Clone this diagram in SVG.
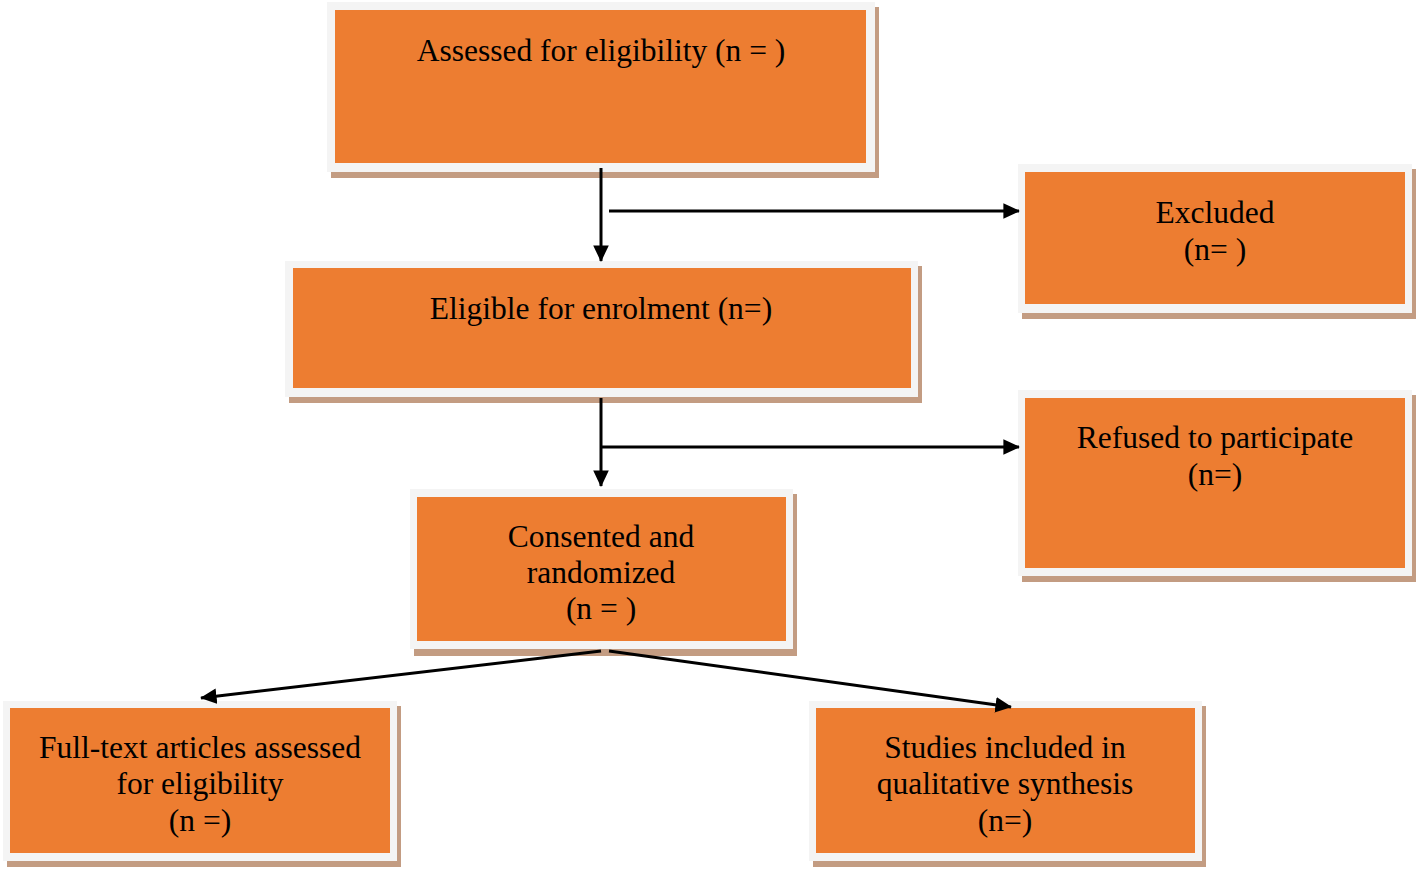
<svg xmlns="http://www.w3.org/2000/svg" width="1418" height="870" viewBox="0 0 1418 870">
<defs>
<style>
.sh{fill:#c39c82}
.fr{fill:#f4f4f4}
.bx{fill:#ed7d31}
text{font-family:"Liberation Serif","Times New Roman",serif;font-size:31.5px;fill:#000;text-anchor:middle}
.ln{stroke:#000;stroke-width:3;fill:none}
</style>
<marker id="ah" markerWidth="5.5" markerHeight="5.2" refX="5.2" refY="2.6" orient="auto" markerUnits="strokeWidth">
<path d="M0,0 L5.5,2.6 L0,5.2 Z" fill="#000"/>
</marker>
</defs>
<rect width="1418" height="870" fill="#fff"/>
<g id="n1">
<rect class="sh" x="331" y="7" width="548" height="171"/>
<rect class="fr" x="327" y="2" width="548" height="170"/>
<rect class="bx" x="335" y="10" width="531" height="153"/>
<text x="601" y="61">Assessed for eligibility (n = )</text>
</g>
<g id="n2">
<rect class="sh" x="289" y="266" width="633" height="137"/>
<rect class="fr" x="285" y="261" width="633" height="136"/>
<rect class="bx" x="293" y="268" width="618" height="120"/>
<text x="601" y="319">Eligible for enrolment (n=)</text>
</g>
<g id="n3">
<rect class="sh" x="1022" y="169" width="394" height="150"/>
<rect class="fr" x="1018" y="164" width="394" height="149"/>
<rect class="bx" x="1025" y="172" width="380" height="132"/>
<text x="1215" y="223">Excluded</text>
<text x="1215" y="260">(n= )</text>
</g>
<g id="n4">
<rect class="sh" x="1022" y="395" width="394" height="187"/>
<rect class="fr" x="1018" y="390" width="394" height="186"/>
<rect class="bx" x="1025" y="398" width="380" height="170"/>
<text x="1215" y="448">Refused to participate</text>
<text x="1215" y="485">(n=)</text>
</g>
<g id="n5">
<rect class="sh" x="414" y="494" width="383" height="162"/>
<rect class="fr" x="410" y="489" width="383" height="160"/>
<rect class="bx" x="417" y="497" width="369" height="144"/>
<text x="601" y="547">Consented and</text>
<text x="601" y="583">randomized</text>
<text x="601" y="619">(n = )</text>
</g>
<g id="n6">
<rect class="sh" x="7" y="706" width="394" height="161"/>
<rect class="fr" x="3" y="701" width="394" height="160"/>
<rect class="bx" x="10" y="708" width="380" height="145"/>
<text x="200" y="758">Full-text articles assessed</text>
<text x="200" y="794">for eligibility</text>
<text x="200" y="831">(n =)</text>
</g>
<g id="n7">
<rect class="sh" x="813" y="706" width="393" height="161"/>
<rect class="fr" x="809" y="701" width="393" height="160"/>
<rect class="bx" x="816" y="708" width="379" height="145"/>
<text x="1005" y="758">Studies included in</text>
<text x="1005" y="794">qualitative synthesis</text>
<text x="1005" y="831">(n=)</text>
</g>
<g id="connectors">
<line class="ln" x1="601" y1="168" x2="601" y2="261" marker-end="url(#ah)"/>
<line class="ln" x1="609" y1="211" x2="1019" y2="211" marker-end="url(#ah)"/>
<line class="ln" x1="601" y1="398" x2="601" y2="486" marker-end="url(#ah)"/>
<line class="ln" x1="601" y1="447" x2="1019" y2="447" marker-end="url(#ah)"/>
<line class="ln" x1="601" y1="651" x2="201" y2="698" marker-end="url(#ah)"/>
<line class="ln" x1="609" y1="651" x2="1011" y2="707" marker-end="url(#ah)"/>
</g>
</svg>
